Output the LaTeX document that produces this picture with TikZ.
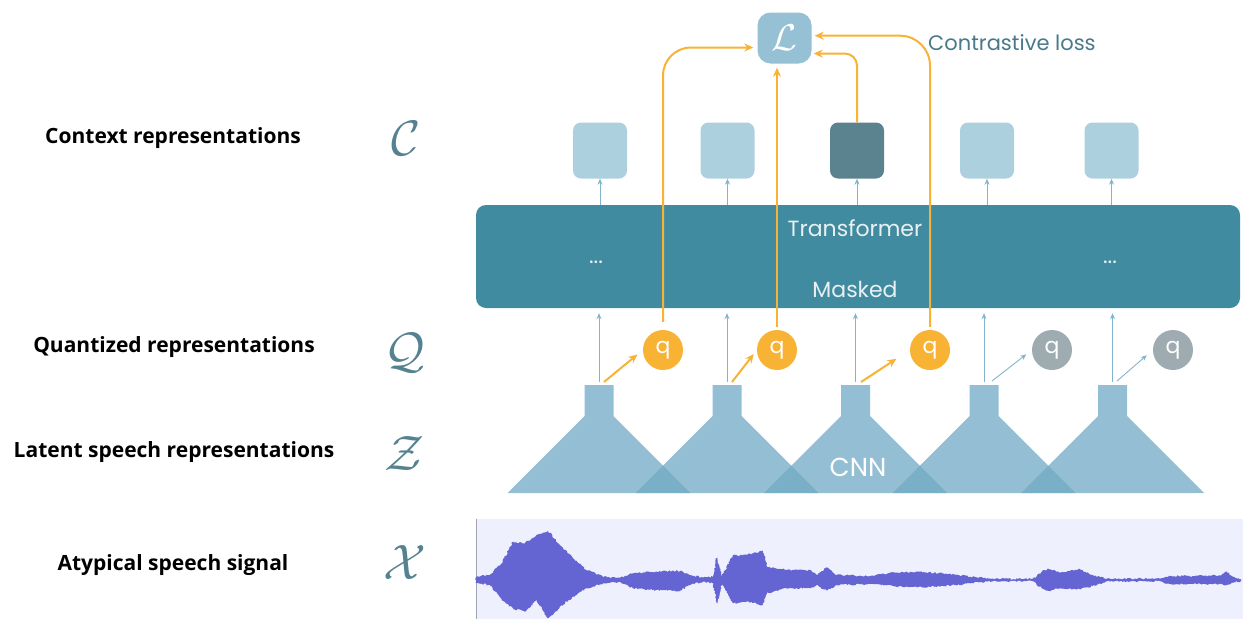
\documentclass[tikz,border=0pt]{standalone}
\usepackage{graphicx}
\usepackage{fontspec}
\newfontfamily\labfont{Open Sans}
\newfontfamily\geofont{Poppins}
\usetikzlibrary{arrows.meta,calc,decorations.pathmorphing}
\definecolor{ctxlight}{RGB}{173,208,222}
\definecolor{ctxdark}{RGB}{90,130,143}
\definecolor{lbox}{RGB}{150,192,211}
\definecolor{trans}{RGB}{64,139,160}
\definecolor{qorange}{RGB}{248,178,52}
\definecolor{qgray}{RGB}{158,172,178}
\definecolor{bluearr}{RGB}{130,180,205}
\definecolor{mathcol}{RGB}{85,130,145}
\definecolor{closs}{RGB}{74,122,138}
\definecolor{cnnfill}{RGB}{114,170,197}
\definecolor{wavebg}{RGB}{238,240,253}
\definecolor{wavecol}{RGB}{100,100,210}
\definecolor{panelline}{RGB}{160,165,175}
\definecolor{transtext}{RGB}{232,240,242}
\begin{document}
\begin{tikzpicture}[x=1pt,y=-1pt,
  ctx/.style={rectangle, rounded corners=8pt, minimum width=54pt, minimum height=56pt, fill=ctxlight, inner sep=0pt},
  qnode/.style={circle, minimum size=40pt, inner sep=0pt, fill=qorange, text=white, font=\geofont\fontsize{22}{24}\selectfont},
  labtxt/.style={font=\labfont\bfseries\fontsize{21}{24}\selectfont, text=black},
  mathlab/.style={text=mathcol, font=\fontsize{24.88}{28}\selectfont, inner sep=0pt},
  ttext/.style={text=transtext, font=\geofont\fontsize{22}{24}\selectfont, inner sep=0pt},
  oarrow/.style={draw=qorange, line width=2pt, -{Stealth[length=9pt,width=8pt]}},
  barrow/.style={draw=bluearr, line width=0.9pt, -{Stealth[length=6pt,width=5pt]}}
]
\pgfmathsetseed{7}
\useasboundingbox (0,0) rectangle (1244,619);

% left labels
\node[labtxt] (lc) at (173,138) {Context representations};
\node[labtxt] (lq) at (174,347) {Quantized representations};
\node[labtxt] (lz) at (174,452) {Latent speech representations};
\node[labtxt] (lx) at (173,565) {Atypical speech signal};

\node[mathlab] (mc) at (406,138) {\scalebox{2.0}{$\mathcal{C}$}};
\node[mathlab] (mq) at (405,353) {\scalebox{2.0}{$\mathcal{Q}$}};
\node[mathlab] (mz) at (405,453) {\scalebox{2.0}{$\mathcal{Z}$}};
\node[mathlab] (mx) at (405,562) {\scalebox{2.0}{$\mathcal{X}$}};

% waveform panel
\fill[wavebg] (476,519) rectangle (1243,619);
\draw[panelline, line width=1.2pt] (476.6,519) -- (476.6,619);
\fill[wavecol, decorate, decoration={random steps, segment length=1.5pt, amplitude=0.9pt}]
 (476,576.7) -- (490,575) -- (501.7,563.3) -- (513,541.7) -- (525,543.3) -- (536.7,535) -- (548,530.7)
 -- (560,545) -- (573,558.3) -- (586.7,570) -- (603,576.7) -- (620,577.7) -- (633,573.3) -- (656.7,571.7)
 -- (680,570.7) -- (690,575) -- (703,577.7) -- (713,576.7) -- (717,556.7) -- (721.7,576.7) -- (733,555)
 -- (746.7,555) -- (763,550.7) -- (767,566.7) -- (786.7,570) -- (810,570) -- (816.7,575) -- (826.7,567.3)
 -- (836.7,575) -- (870,576) -- (876.7,575) -- (893,572.7) -- (916.7,571.7) -- (943,573.3) -- (970,576.7)
 -- (993,578.7) -- (1033,578.7) -- (1041.7,571.7) -- (1048,568.7) -- (1060,572.7) -- (1080,569.3)
 -- (1093,575) -- (1106.7,578.7) -- (1160,578.7) -- (1170,576) -- (1193,576) -- (1220,575.3)
 -- (1226.7,571.7) -- (1233,576.7) -- (1241,579)
 -- (1241,581) -- (1233,582.7) -- (1226.7,585) -- (1220,584) -- (1193,584) -- (1170,584) -- (1160,581.3)
 -- (1106.7,581.3) -- (1093,586) -- (1080,589.3) -- (1060,588.3) -- (1048,590.7) -- (1041.7,588.3)
 -- (1033,581.3) -- (993,581.3) -- (970,583.3) -- (943,586) -- (916.7,587.3) -- (893,586) -- (876.7,584)
 -- (870,584) -- (836.7,585) -- (826.7,590.7) -- (816.7,585) -- (810,588.3) -- (786.7,588.3) -- (767,593.3)
 -- (763,605) -- (746.7,601.7) -- (733,603.3) -- (721.7,583.3) -- (717,603.3) -- (713,583.3) -- (703,581.7)
 -- (690,585) -- (680,590.7) -- (656.7,590) -- (633,588.3) -- (620,581.7) -- (603,583.3) -- (586.7,588.3)
 -- (573,596.7) -- (560,606.7) -- (548,618.3) -- (536.7,600) -- (525,611.7) -- (513,608.3) -- (501.7,600)
 -- (490,585) -- (476,583.3) -- cycle;

% CNN encoders
\foreach \cx in {599,727,855.5,984,1112.5} {
  \fill[cnnfill, fill opacity=0.76] (\cx-14.5,385) -- (\cx+14.5,385) -- (\cx+14.5,416) -- (\cx+91.5,493)
     -- (\cx-91.5,493) -- (\cx-14.5,416) -- cycle;
}
\node[text=white, font=\geofont\fontsize{26}{28}\selectfont, inner sep=0pt] (cnn) at (858,467) {CNN};

\coordinate (n1) at (599,382);   \coordinate (d1) at (604,382);
\coordinate (n2) at (727,382);   \coordinate (d2) at (732,382);
\coordinate (n3) at (855.5,382); \coordinate (d3) at (861,382);
\coordinate (n4) at (984,382);   \coordinate (d4) at (992,381);
\coordinate (n5) at (1112.5,382);\coordinate (d5) at (1117,381);

% transformer
\node[rectangle, rounded corners=10pt, fill=trans, minimum width=764pt, minimum height=103pt, inner sep=0pt] (T) at (858,256.5) {};
\node[ttext] (tt) at (855,228) {Transformer};
\node[ttext] (tm) at (855,289) {Masked};
\node[ttext] (e1) at (596,262) {...};
\node[ttext] (e2) at (1110,262) {...};

% context representations
\node[ctx] (c1) at (600,150.5) {};
\node[ctx] (c2) at (727.5,150.5) {};
\node[ctx, fill=ctxdark] (c3) at (857,150.5) {};
\node[ctx] (c4) at (987,150.5) {};
\node[ctx] (c5) at (1111.5,150.5) {};

\foreach \i in {1,...,5} {
  \draw[barrow] (T.north -| c\i.south) -- (c\i.south);
  \draw[barrow, shorten >=5pt] (n\i) -- (n\i |- T.south);
}

% quantized
\node[qnode] (q1) at (663,350) {q};
\node[qnode] (q2) at (777,350) {q};
\node[qnode] (q3) at (930,350) {q};
\node[qnode, fill=qgray] (q4) at (1052,350) {q};
\node[qnode, fill=qgray] (q5) at (1173,350) {q};

\draw[oarrow, shorten >=7pt] (d1) -- (q1.west);
\draw[oarrow, shorten >=5pt] (d2) -- (q2.west);
\draw[oarrow, shorten >=16pt] (d3) -- (q3.west);
\draw[barrow, shorten >=7pt] (d4) -- (q4.west);
\draw[barrow, shorten >=8pt] (d5) -- (q5.west);

% loss
\node[rectangle, rounded corners=13pt, fill=lbox, minimum width=54pt, minimum height=51pt, inner sep=0pt, text=white, font=\fontsize{24.88}{28}\selectfont] (L) at (784.5,38) {\scalebox{1.5}{$\mathcal{L}$}};
\node[text=closs, font=\geofont\fontsize{21}{23}\selectfont, anchor=west, inner sep=0pt] (cl) at (928,43) {Contrastive loss};

\draw[oarrow, rounded corners=28pt, shorten <=8pt, shorten >=4pt] (q1.north) |- ($(L.west)+(0,9.5)$);
\draw[oarrow, shorten <=3pt, shorten >=4pt] (q2.north) -- (q2.north |- L.south);
\draw[oarrow, rounded corners=12pt, shorten >=2pt] (c3.north) |- ($(L.east)+(0,15.6)$);
\draw[oarrow, rounded corners=30pt, shorten <=3pt, shorten >=3pt] (q3.north) |- ($(L.east)+(0,-2.3)$);
\end{tikzpicture}
\end{document}
